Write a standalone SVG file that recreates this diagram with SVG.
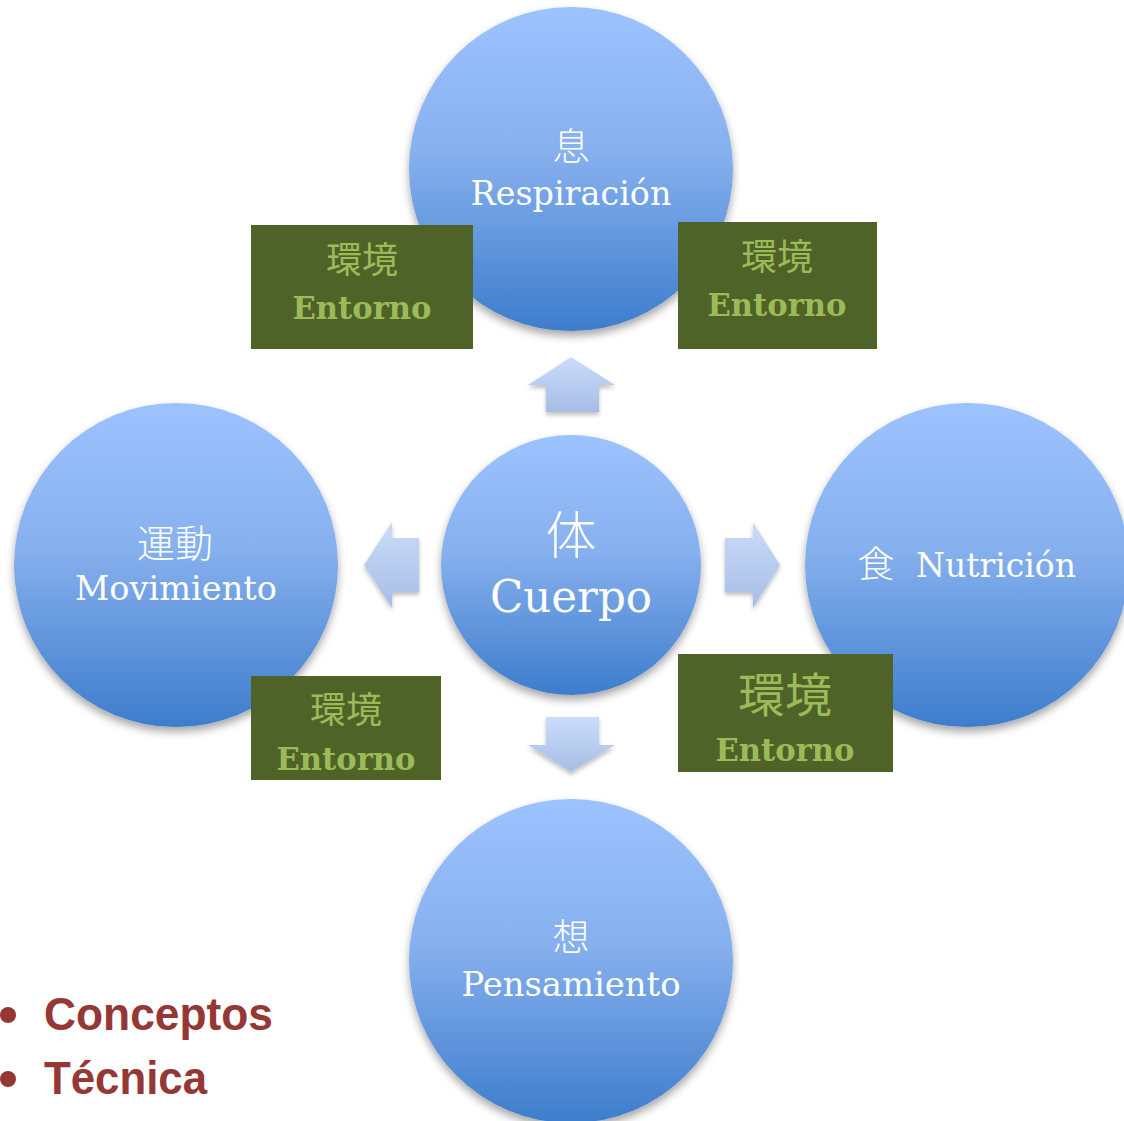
<svg xmlns="http://www.w3.org/2000/svg" width="1124" height="1121" viewBox="0 0 1124 1121">
<defs>
<linearGradient id="gc" x1="0" y1="0" x2="0" y2="1">
<stop offset="0" stop-color="#9dc3ff"/>
<stop offset="0.45" stop-color="#86b0ee"/>
<stop offset="1" stop-color="#3d7dcc"/>
</linearGradient>
<linearGradient id="ga" x1="0" y1="0" x2="0" y2="1">
<stop offset="0" stop-color="#cadcfa"/>
<stop offset="1" stop-color="#a6bde4"/>
</linearGradient>
<filter id="sh" x="-20%" y="-20%" width="140%" height="150%">
<feDropShadow dx="0" dy="5" stdDeviation="4" flood-color="#000" flood-opacity="0.35"/>
</filter>
<filter id="sha" x="-20%" y="-20%" width="140%" height="150%">
<feDropShadow dx="0" dy="3" stdDeviation="2" flood-color="#000" flood-opacity="0.25"/>
</filter>
</defs>
<style>
.c{fill:url(#gc);filter:url(#sh)}
.a{fill:url(#ga);filter:url(#sha)}
.box{fill:#4f6228}
.w{fill:#fff;font-family:"DejaVu Serif","Liberation Serif",serif;text-anchor:middle}
.k{fill:#fff;font-family:"Noto Sans CJK JP",sans-serif;font-weight:300;text-anchor:middle}
.gk{fill:#9bbb59;font-family:"Noto Sans CJK JP",sans-serif;text-anchor:middle}
.ge{fill:#9bbb59;font-family:"DejaVu Serif","Liberation Serif",serif;font-weight:bold;text-anchor:middle}
.b{fill:#953735;font-family:"Liberation Sans",Arial,sans-serif;font-weight:bold}
</style>
<rect width="1124" height="1121" fill="#fff"/>
<g id="connectors">
<polygon class="a" points="571,357 615,385 599,385 599,412 546,412 546,385 528,385"/>
<polygon class="a" points="571,772 615,745 599,745 599,717 546,717 546,745 528,745"/>
<polygon class="a" points="364,565 392,522 392,538 419,538 419,592 392,592 392,608"/>
<polygon class="a" points="780,565 753,522 753,538 725,538 725,592 753,592 753,608"/>
</g>
<g id="node-respiracion">
<circle class="c" cx="571" cy="169" r="162"/>
<text class="k" x="571" y="160" font-size="37">息</text>
<text class="w" x="571" y="205" font-size="33" textLength="201" lengthAdjust="spacingAndGlyphs">Respiración</text>
</g>
<g id="node-movimiento">
<circle class="c" cx="176" cy="565" r="162"/>
<text class="k" x="175" y="557" font-size="38">運動</text>
<text class="w" x="176" y="600" font-size="33" textLength="202" lengthAdjust="spacingAndGlyphs">Movimiento</text>
</g>
<g id="node-nutricion">
<circle class="c" cx="967" cy="565" r="162"/>
<text class="k" x="876" y="578" font-size="37">食</text>
<text class="w" x="996" y="577" font-size="33" textLength="160" lengthAdjust="spacingAndGlyphs">Nutrición</text>
</g>
<g id="node-pensamiento">
<circle class="c" cx="571" cy="961" r="162"/>
<text class="k" x="571" y="951" font-size="37">想</text>
<text class="w" x="571" y="996" font-size="33" textLength="219" lengthAdjust="spacingAndGlyphs">Pensamiento</text>
</g>
<g id="node-cuerpo">
<circle class="c" cx="571" cy="565" r="130"/>
<text class="k" x="571" y="554" font-size="51">体</text>
<text class="w" x="571" y="612" font-size="45" textLength="162" lengthAdjust="spacingAndGlyphs">Cuerpo</text>
</g>
<g id="entorno-1">
<rect class="box" x="251" y="225" width="222" height="124"/>
<text class="gk" x="362" y="273" font-size="36">環境</text>
<text class="ge" x="362" y="319" font-size="31" textLength="139" lengthAdjust="spacingAndGlyphs">Entorno</text>
</g>
<g id="entorno-2">
<rect class="box" x="678" y="222" width="199" height="127"/>
<text class="gk" x="777" y="270" font-size="36">環境</text>
<text class="ge" x="777" y="316" font-size="31" textLength="139" lengthAdjust="spacingAndGlyphs">Entorno</text>
</g>
<g id="entorno-3">
<rect class="box" x="251" y="676" width="190" height="104"/>
<text class="gk" x="346" y="723" font-size="36">環境</text>
<text class="ge" x="346" y="770" font-size="31" textLength="139" lengthAdjust="spacingAndGlyphs">Entorno</text>
</g>
<g id="entorno-4">
<rect class="box" x="678" y="654" width="215" height="118"/>
<text class="gk" x="785" y="712" font-size="47">環境</text>
<text class="ge" x="785" y="761" font-size="31" textLength="139" lengthAdjust="spacingAndGlyphs">Entorno</text>
</g>
<g id="bullets">
<circle cx="8" cy="1015" r="8" fill="#953735"/>
<circle cx="8" cy="1079" r="8" fill="#953735"/>
<text class="b" x="44" y="1030" font-size="47" textLength="229" lengthAdjust="spacingAndGlyphs">Conceptos</text>
<text class="b" x="44" y="1094" font-size="47" textLength="163" lengthAdjust="spacingAndGlyphs">Técnica</text>
</g>
</svg>
